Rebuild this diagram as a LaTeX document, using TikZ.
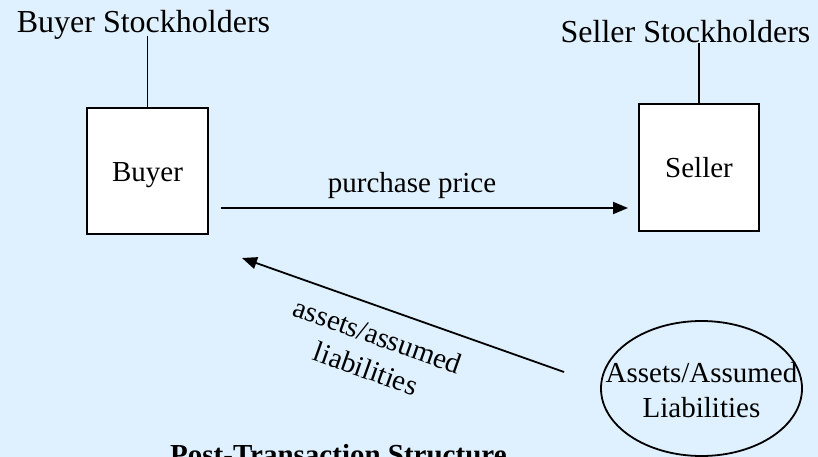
\documentclass[tikz,border=0pt]{standalone}
\usepackage{fontspec}
\setmainfont{Liberation Serif}
\usetikzlibrary{arrows.meta,shapes.geometric,calc}
\definecolor{paneblue}{RGB}{223,240,254}
\tikzset{
  big/.style={font=\fontsize{32}{38}\selectfont, inner sep=0pt},
  txt/.style={font=\fontsize{29}{35}\selectfont, inner sep=0pt},
  party/.style={draw, line width=1.8pt, fill=white, inner sep=0pt,
    font=\fontsize{29}{35}\selectfont, text depth=0pt},
  link/.style={line width=1.8pt},
  flow/.style={line width=1.8pt, -{Triangle[length=15pt,width=12pt]}},
}
\begin{document}
\begin{tikzpicture}[x=1pt,y=-1pt]
  \useasboundingbox (0,0) rectangle (818,457);
  \clip (0,0) rectangle (818,457);
  \fill[paneblue] (0,0) rectangle (818,457);

  % parties
  \node[big, anchor=base] (bsh) at (143.5,33) {Buyer Stockholders};
  \node[big, anchor=base] (ssh) at (685.5,43) {Seller Stockholders};
  \node[party, minimum width=121pt, minimum height=126pt, text height=22pt]
    (buyer) at (147.5,171) {Buyer};
  \node[party, minimum width=120pt, minimum height=127pt, text height=19pt]
    (seller) at (699,167.5) {Seller};
  \node[ellipse, draw, line width=1.8pt, inner sep=0pt,
    minimum width=201pt, minimum height=135pt] (assets) at (701.5,388.5) {};
  \node[txt, align=center] (assetstext) at ([yshift=-1.5pt]assets.center)
    {Assets/Assumed\\Liabilities};

  % ownership links
  \draw[link] ([yshift=4pt]bsh.south -| buyer.north) -- (buyer.north);
  \draw[link] (ssh.base -| seller.north) -- (seller.north);

  % purchase price
  \coordinate (pp1) at (221,208);
  \coordinate (pp2) at (628,208);
  \draw[flow] (pp1) -- (pp2);
  \node[txt, anchor=base] (pplabel) at (412,192) {purchase price};

  % assets / assumed liabilities
  \coordinate (al1) at (564,372);
  \coordinate (al2) at (242,258);
  \draw[flow] (al1) -- (al2);
  \node[txt, align=center, rotate=-19.5] (allabel) at (372,352)
    {assets/assumed\\liabilities};

  % caption
  \node[anchor=base west, inner sep=0pt, font=\fontsize{29}{35}\selectfont\bfseries]
    (title) at (170,464.5) {Post-Transaction Structure};
\end{tikzpicture}
\end{document}
